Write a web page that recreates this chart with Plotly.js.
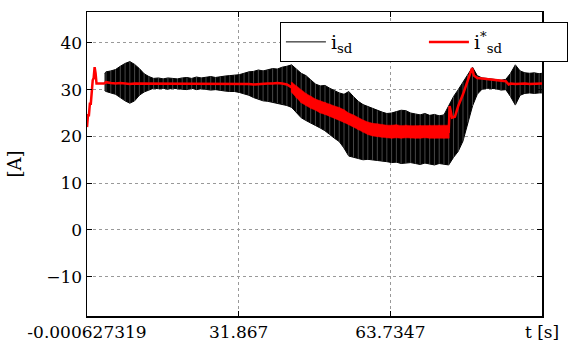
<!DOCTYPE html>
<html>
<head>
<meta charset="utf-8">
<script src="https://cdn.plot.ly/plotly-3.0.1.min.js"></script>
<style>html,body{margin:0;padding:0;background:#fff;}#chart{width:580px;height:343px;}</style>
</head>
<body>
<div id="chart"></div>
<script>
// x tick positions and labels
var xTickVals = [-0.000627319, 31.867, 63.7347, 95.6024];
var xTickText = ['-0.000627319', '31.867', '63.7347', 't [s]'];
var yTickVals = [-10, 0, 10, 20, 30, 40];

// i_sd (measured) : upper / lower envelope of the fast oscillation
var tB = [3.7,4,5,6,7,8,9,10,11,12,13,14,15,16,17,18,19,20,21,22,23,24,25,26,27,28,29,30,31,32,33,34,35,36,37,38,39,40,41,42,43,44,45,46,47,48,49,50,51,52,53,54,55,56,57,58,59,60,61,62,63,64,65,66,67,68,69,70,71,72,73,74,75,76,77,78,79,80,81,82,83,84,85,86,87,88,89,90,91,92,93,94,95,95.6];
var hiB = [33.5,33.8,34.0,34.3,35.0,35.6,36.0,35.4,34.5,33.4,32.8,32.4,32.5,32.3,32.5,32.4,32.3,32.5,32.6,32.4,32.7,32.5,32.6,32.8,32.6,32.8,32.9,33.0,33.1,33.2,33.5,33.8,33.9,34.2,34.0,34.3,34.5,34.4,34.8,35.0,35.3,34.4,33.5,33.0,32.2,31.2,30.8,30.9,30.3,29.8,29.3,29.0,29.6,28.5,27.5,26.8,26.4,26.0,25.5,25.2,24.9,25.0,25.3,25.6,25.5,25.0,24.8,24.6,24.9,24.5,24.7,24.4,24.6,26.5,28.5,30.0,31.6,33.2,34.8,33.0,32.5,32.4,32.3,32.2,32.0,32.2,33.5,35.3,34.0,33.6,33.5,33.6,33.4,33.5];
var loB = [29.8,29.6,29.3,29.0,28.3,27.6,27.1,27.6,28.8,29.5,29.9,30.3,30.2,30.3,30.1,30.3,30.2,30.1,30.0,30.3,30.0,30.2,30.0,29.9,30.0,29.8,29.7,29.6,29.6,29.4,29.1,28.8,28.3,28.0,27.6,27.5,27.3,27.1,26.9,26.6,26.2,25.2,24.0,23.4,22.9,22.3,21.8,21.2,20.3,19.6,18.9,17.5,15.8,15.5,15.2,15.0,15.1,15.0,14.8,14.7,14.6,14.4,14.5,14.2,14.3,14.4,14.2,14.0,14.3,14.1,13.9,14.2,14.0,13.9,15.5,16.8,19.0,23.0,26.5,29.0,30.1,30.3,30.2,30.2,29.9,30.0,28.5,26.7,28.8,29.2,29.3,29.2,29.3,29.3];

// i*_sd (reference)
var tR = [0,0.2,0.4,0.6,0.8,1.0,1.2,1.4,1.6,1.8,2.0,3.6,4,5,6,7,8,9,10,11,12,13,14,15,16,17,18,19,20,21,22,23,24,25,26,27,28,29,30,31,32,33,34,35,36,37,38,39,40,41,42,43,44,45,46,47,48,49,50,51,52,53,54,55,56,57,58,59,60,61,62,63,64,65,66,67,68,69,70,71,72,73,74,75,76,76.2,76.7,77.3,78,79,80,80.9,81.3,82,83,84,85,86,87,88,88.6,89,90,91,92,93,94,95,95.6];
var vR = [22.0,24.5,24.5,27.0,27.0,30.0,32.0,32.5,34.8,33.5,31.3,31.3,31.6,31.4,31.3,31.4,31.3,31.2,31.3,31.3,31.2,31.3,31.2,31.2,31.3,31.2,31.2,31.3,31.2,31.2,31.2,31.3,31.2,31.2,31.2,31.3,31.2,31.2,31.2,31.3,31.2,31.2,31.2,31.1,31.2,31.3,31.3,31.3,31.4,31.3,31.1,30.5,29.4,28.4,27.9,27.3,26.8,26.3,26.0,25.6,25.2,24.8,24.4,23.8,23.3,22.7,22.2,21.8,21.5,21.3,21.2,21.0,21.0,21.1,21.0,21.1,21.0,20.9,21.0,21.0,21.1,21.0,21.0,21.0,21.0,26.5,24.0,24.2,26.5,29.0,31.8,34.6,33.0,32.5,32.4,32.3,32.1,32.0,31.9,31.8,31.1,31.3,31.2,31.3,31.3,31.2,31.3,31.3,31.3];

// i*_sd ripple band in the transient
var tRB = [43,44,45,46,47,48,49,50,51,52,53,54,55,56,57,58,59,60,61,62,63,64,65,66,67,68,69,70,71,72,73,74,75,76];
var hiR = [31.6,30.8,29.8,29.2,28.6,28.0,27.6,27.3,26.9,26.5,26.2,25.7,25.0,24.6,24.0,23.5,23.1,22.8,22.7,22.5,22.4,22.4,22.5,22.3,22.4,22.3,22.3,22.4,22.3,22.4,22.3,22.4,22.3,22.4];
var loR = [29.4,28.2,27.2,26.6,26.0,25.6,25.0,24.7,24.3,23.9,23.5,23.0,22.5,22.0,21.4,20.9,20.4,20.1,19.9,19.8,19.7,19.6,19.7,19.6,19.7,19.6,19.6,19.6,19.7,19.6,19.6,19.7,19.6,19.6];

function stripes(t, lo, hi) {
  var x = [], y = [];
  for (var i = 0; i < t.length; i++) {
    x.push(t[i], t[i], null);
    y.push(lo[i], hi[i], null);
  }
  return {x: x, y: y};
}

var sB = stripes(tB, loB, hiB);
var sR = stripes(tRB, loR, hiR);
var serif = 'DejaVu Serif';

var traces = [
  {x: tB, y: loB, mode: 'lines', name: 'i<sub>sd</sub>', line: {color: '#000', width: 1}, hoverinfo: 'skip'},
  {x: tB, y: hiB, mode: 'lines', fill: 'tonexty', fillcolor: '#000', line: {color: '#000', width: 1}, showlegend: false, hoverinfo: 'skip'},
  {x: sB.x, y: sB.y, mode: 'lines', line: {color: '#777', width: 0.6}, showlegend: false, connectgaps: false},
  {x: tRB, y: loR, mode: 'lines', line: {color: '#ff0000', width: 0.5}, showlegend: false, hoverinfo: 'skip'},
  {x: tRB, y: hiR, mode: 'lines', fill: 'tonexty', fillcolor: '#ff0000', line: {color: '#ff0000', width: 0.5}, showlegend: false, hoverinfo: 'skip'},
  {x: sR.x, y: sR.y, mode: 'lines', line: {color: '#ff0000', width: 1.5}, showlegend: false, connectgaps: false},
  {x: tR, y: vR, mode: 'lines', name: 'i<sup>*</sup><sub>sd</sub>', line: {color: '#ff0000', width: 2.5}}
];

var layout = {
  width: 580, height: 343,
  margin: {l: 87, r: 19, t: 12, b: 27},
  paper_bgcolor: '#fff', plot_bgcolor: '#fff',
  font: {family: serif, size: 18, color: '#000'},
  showlegend: true,
  legend: {
    orientation: 'h', traceorder: 'normal',
    x: 0.424, y: 0.967, xanchor: 'left', yanchor: 'top',
    bgcolor: '#fff', bordercolor: '#000', borderwidth: 1,
    font: {family: serif, size: 19, color: '#000'},
    entrywidth: 88, entrywidthmode: 'pixels', itemwidth: 40
  },
  xaxis: {
    range: [xTickVals[0], xTickVals[3]],
    tickmode: 'array', tickvals: xTickVals, ticktext: xTickText,
    ticks: 'inside', ticklen: 5, tickcolor: '#000', tickwidth: 1,
    showline: true, linecolor: '#000', linewidth: 1.5, mirror: 'ticks',
    showgrid: true, gridcolor: '#999', griddash: 'dot', gridwidth: 1,
    zeroline: false, tickfont: {family: serif, size: 17}
  },
  yaxis: {
    range: [-18.4, 46.6],
    tickmode: 'array', tickvals: yTickVals,
    ticks: 'inside', ticklen: 5, tickcolor: '#000', tickwidth: 1,
    showline: true, linecolor: '#000', linewidth: 1.5, mirror: 'ticks',
    showgrid: true, gridcolor: '#999', griddash: 'dot', gridwidth: 1,
    zeroline: false, tickfont: {family: serif, size: 17},
    title: {text: '[A]', font: {family: serif, size: 18}, standoff: 20}
  }
};

Plotly.newPlot('chart', traces, layout, {displayModeBar: false, staticPlot: true});
</script>
</body>
</html>
